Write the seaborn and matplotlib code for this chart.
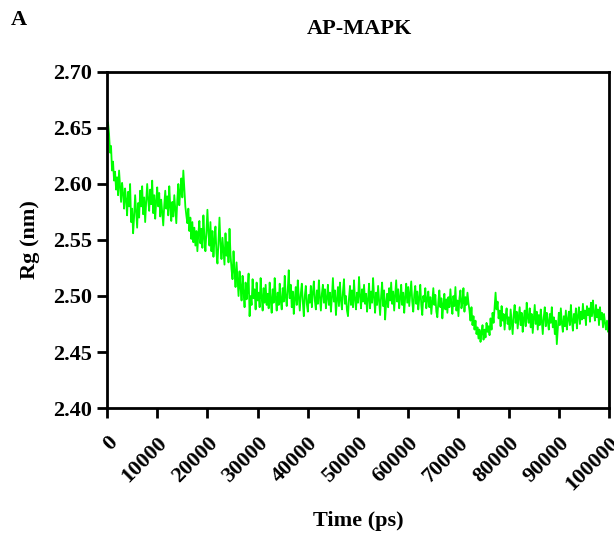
import numpy as np
import pandas as pd
import matplotlib
matplotlib.use("Agg")
import matplotlib.pyplot as plt
import seaborn as sns

# Time axis (ps), one value every 200 ps
time_ps = list(range(0, 100001, 200))

rg_nm = [
    2.640, 2.655, 2.645, 2.628, 2.634, 2.612, 2.620, 2.603, 2.611, 2.595, 2.606, 2.590, 2.612, 2.598, 2.584, 2.601, 2.592, 2.578, 2.596, 2.586,
    2.572, 2.593, 2.580, 2.600, 2.566, 2.578, 2.556, 2.571, 2.590, 2.575, 2.561, 2.583, 2.570, 2.594, 2.580, 2.598, 2.573, 2.588, 2.566, 2.584,
    2.600, 2.586, 2.576, 2.595, 2.582, 2.603, 2.574, 2.590, 2.569, 2.585, 2.597, 2.580, 2.592, 2.571, 2.586, 2.575, 2.563, 2.581, 2.594, 2.578,
    2.589, 2.572, 2.598, 2.580, 2.567, 2.584, 2.571, 2.590, 2.578, 2.565, 2.586, 2.600, 2.581, 2.594, 2.605, 2.588, 2.612, 2.596, 2.580, 2.572,
    2.565, 2.578, 2.558, 2.570, 2.551, 2.566, 2.548, 2.561, 2.545, 2.558, 2.540, 2.556, 2.567, 2.547, 2.560, 2.543, 2.572, 2.552, 2.540, 2.557,
    2.577, 2.556, 2.545, 2.566, 2.540, 2.558, 2.535, 2.550, 2.562, 2.538, 2.529, 2.548, 2.570, 2.546, 2.533, 2.552, 2.540, 2.528, 2.556, 2.536,
    2.548, 2.530, 2.560, 2.537, 2.524, 2.515, 2.540, 2.522, 2.508, 2.530, 2.515, 2.500, 2.522, 2.508, 2.496, 2.518, 2.503, 2.490, 2.512, 2.497,
    2.505, 2.520, 2.482, 2.500, 2.492, 2.515, 2.498, 2.506, 2.488, 2.512, 2.496, 2.503, 2.490, 2.516, 2.499, 2.487, 2.507, 2.494, 2.510, 2.492,
    2.502, 2.489, 2.512, 2.497, 2.485, 2.506, 2.494, 2.516, 2.499, 2.487, 2.503, 2.492, 2.511, 2.496, 2.488, 2.507, 2.495, 2.518, 2.500, 2.491,
    2.505, 2.523, 2.498, 2.510, 2.490, 2.504, 2.484, 2.497, 2.508, 2.492, 2.514, 2.499, 2.487, 2.502, 2.511, 2.495, 2.482, 2.500, 2.509, 2.493,
    2.486, 2.501, 2.494, 2.509, 2.490, 2.503, 2.513, 2.496, 2.488, 2.505, 2.493, 2.514, 2.499, 2.487, 2.502, 2.510, 2.494, 2.506, 2.489, 2.498,
    2.510, 2.492, 2.503, 2.486, 2.499, 2.516, 2.495, 2.505, 2.483, 2.497, 2.508, 2.491, 2.512, 2.496, 2.488, 2.504, 2.515, 2.493, 2.500, 2.487,
    2.482, 2.498, 2.509, 2.492, 2.505, 2.490, 2.514, 2.497, 2.488, 2.503, 2.494, 2.517, 2.500, 2.489, 2.506, 2.495, 2.510, 2.493, 2.502, 2.486,
    2.497, 2.511, 2.489, 2.504, 2.494, 2.516, 2.499, 2.485, 2.503, 2.492, 2.509, 2.496, 2.483, 2.500, 2.512, 2.491, 2.505, 2.479, 2.494, 2.502,
    2.490, 2.507, 2.496, 2.512, 2.493, 2.504, 2.487, 2.500, 2.514, 2.495, 2.506, 2.489, 2.498, 2.510, 2.492, 2.503, 2.485, 2.499, 2.511, 2.494,
    2.508, 2.491, 2.502, 2.513, 2.495, 2.486, 2.501, 2.509, 2.493, 2.504, 2.488, 2.498, 2.510, 2.492, 2.483, 2.500, 2.495, 2.507, 2.489, 2.497,
    2.504, 2.490, 2.499, 2.484, 2.496, 2.507, 2.492, 2.501, 2.486, 2.481, 2.495, 2.505, 2.490, 2.498, 2.480, 2.493, 2.502, 2.488, 2.497, 2.485,
    2.499, 2.490, 2.506, 2.493, 2.484, 2.500, 2.491, 2.508, 2.487, 2.496, 2.482, 2.498, 2.505, 2.489, 2.494, 2.507, 2.486, 2.499, 2.492, 2.503,
    2.494, 2.487, 2.478, 2.490, 2.474, 2.482, 2.470, 2.478, 2.466, 2.472, 2.462, 2.470, 2.459, 2.467, 2.474, 2.461, 2.470, 2.463, 2.476, 2.468,
    2.473, 2.465, 2.480, 2.470, 2.485, 2.476, 2.490, 2.503, 2.488, 2.495, 2.480, 2.487, 2.473, 2.491, 2.478, 2.484, 2.470, 2.482, 2.489, 2.475,
    2.481, 2.470, 2.488, 2.477, 2.466, 2.483, 2.492, 2.476, 2.486, 2.471, 2.480, 2.490, 2.474, 2.485, 2.468, 2.479, 2.487, 2.473, 2.494, 2.481,
    2.476, 2.489, 2.472, 2.484, 2.467, 2.480, 2.492, 2.475, 2.486, 2.470, 2.483, 2.474, 2.488, 2.478, 2.466, 2.481, 2.490, 2.473, 2.485, 2.477,
    2.470, 2.484, 2.476, 2.490, 2.472, 2.481, 2.466, 2.478, 2.457, 2.471, 2.485, 2.474, 2.489, 2.476, 2.468, 2.482, 2.473, 2.487, 2.470, 2.479,
    2.486, 2.474, 2.492, 2.478, 2.469, 2.484, 2.476, 2.489, 2.471, 2.482, 2.490, 2.475, 2.486, 2.479, 2.493, 2.480, 2.487, 2.474, 2.491, 2.483,
    2.489, 2.477, 2.494, 2.482, 2.496, 2.485, 2.478, 2.492, 2.481, 2.488, 2.474, 2.490, 2.479, 2.485, 2.472, 2.484, 2.476, 2.470, 2.478, 2.468,
    2.471,
]

x_ticks = list(range(0, 100001, 10000))
y_ticks = [2.40, 2.45, 2.50, 2.55, 2.60, 2.65, 2.70]

n = min(len(time_ps), len(rg_nm))
df = pd.DataFrame({"Time (ps)": time_ps[:n], "Rg (nm)": rg_nm[:n]})

sns.set_style("ticks")
plt.rcParams["font.family"] = ["Liberation Serif", "DejaVu Serif"]
plt.rcParams["font.weight"] = "bold"
plt.rcParams["text.color"] = "black"
plt.rcParams["axes.labelcolor"] = "black"
plt.rcParams["xtick.color"] = "black"
plt.rcParams["ytick.color"] = "black"

fig = plt.figure(figsize=(6.14, 5.36), dpi=100)
ax = fig.add_axes([0.1743, 0.2388, 0.8176, 0.6269])

sns.lineplot(data=df, x="Time (ps)", y="Rg (nm)", ax=ax, color="#00FF00",
             linewidth=1.3)

ax.set_xlim(0, 100000)
ax.set_ylim(2.40, 2.70)
ax.set_xticks(x_ticks)
ax.set_xticklabels([str(v) for v in x_ticks], rotation=45, ha="right",
                   rotation_mode="anchor", fontsize=16, fontweight="bold")
ax.set_yticks(y_ticks)
ax.set_yticklabels([f"{v:.2f}" for v in y_ticks], fontsize=16, fontweight="bold")

for s in ax.spines.values():
    s.set_linewidth(2.0)
    s.set_color("black")
ax.tick_params(axis="both", direction="out", length=7, width=2.0, color="black")
ax.tick_params(axis="x", pad=11)

ax.set_xlabel("Time (ps)", fontsize=16, fontweight="bold", labelpad=12)
ax.set_ylabel("Rg (nm)", fontsize=16, fontweight="bold", labelpad=10)

fig.text(0.585, 0.945, "AP-MAPK", ha="center", va="center", fontsize=16,
         fontweight="bold")
fig.text(0.03, 0.962, "A", ha="center", va="center", fontsize=16,
         fontweight="bold")

fig.savefig("out.png", dpi=100)
